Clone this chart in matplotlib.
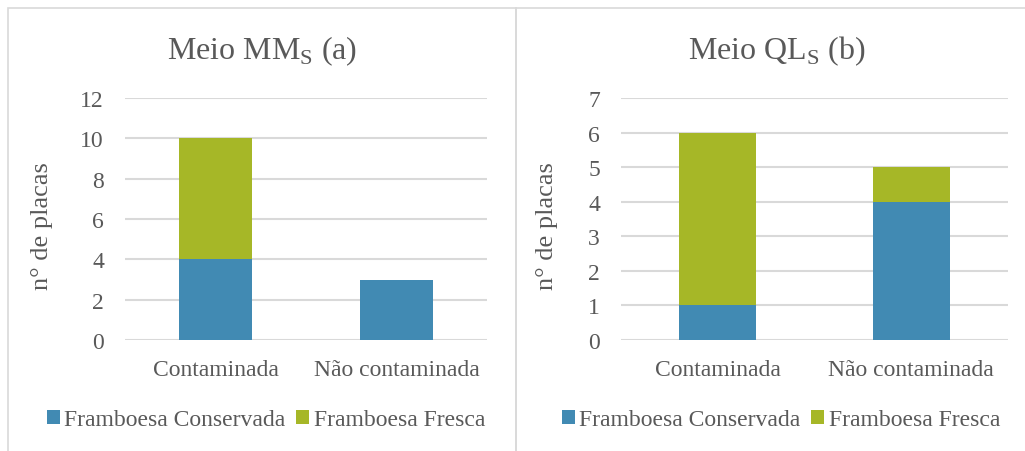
import matplotlib
matplotlib.use("Agg")
import matplotlib.pyplot as plt
from matplotlib.patches import Patch, Rectangle

# Data
categories = ["Contaminada", "Não contaminada"]
series_names = ["Framboesa Conservada", "Framboesa Fresca"]
mm_conservada = [4, 3]
mm_fresca = [6, 0]
ql_conservada = [1, 4]
ql_fresca = [5, 1]
mm_yticks = [0, 2, 4, 6, 8, 10, 12]
ql_yticks = [0, 1, 2, 3, 4, 5, 6, 7]

BLUE = "#418AB3"
GREEN = "#A6B727"
TEXT = "#595959"
GRID = "#D9D9D9"

plt.rcParams["font.family"] = ["Liberation Serif", "DejaVu Serif"]
plt.rcParams["mathtext.fontset"] = "custom"
plt.rcParams["mathtext.rm"] = "Liberation Serif"

W, H = 1025, 452
fig = plt.figure(figsize=(W / 100, H / 100), dpi=100)


def fx(px):
    return px / W


def fy(py):
    return (H - py) / H


# Panel frames
for x0, x1 in [(8, 516), (516, 1040)]:
    fig.patches.append(Rectangle((fx(x0), fy(470)), fx(x1 - x0), (470 - 9) / H,
                                 transform=fig.transFigure, fill=False,
                                 edgecolor="#D9D9D9", linewidth=1.2))


def panel(ax_left, ax_right, title, cons, fres, yticks, cx, ylab_x, tick_right):
    ax = fig.add_axes([fx(ax_left), fy(341), fx(ax_right - ax_left), (341 - 99) / H])
    x = range(len(categories))
    ax.bar(x, cons, width=0.4, color=BLUE, zorder=3)
    ax.bar(x, fres, width=0.4, bottom=cons, color=GREEN, zorder=3)
    ax.set_xlim(-0.5, len(categories) - 0.5)
    ax.set_ylim(yticks[0], yticks[-1])
    ax.set_yticks(yticks)
    ax.set_xticks(list(x))
    ax.set_xticklabels(categories)
    for s in ax.spines.values():
        s.set_visible(False)
    ax.yaxis.grid(True, color=GRID, linewidth=1.5, zorder=0)
    ax.set_axisbelow(True)
    ax.tick_params(axis="both", length=0, labelsize=17, colors=TEXT)
    ax.tick_params(axis="y", pad=(ax_left - tick_right) * 0.72)
    ax.tick_params(axis="x", pad=14)
    for lab in ax.get_yticklabels():
        lab.set_clip_on(False)
    fig.text(fx(cx), fy(51), title, ha="center", va="center", fontsize=23, color=TEXT)
    fig.text(fx(ylab_x), fy(226), "n° de placas", rotation=90, ha="center", va="center",
             fontsize=19, color=TEXT)
    handles = [Patch(facecolor=BLUE, edgecolor="none"), Patch(facecolor=GREEN, edgecolor="none")]
    ax.legend(handles, series_names, loc="center", bbox_to_anchor=(fx(cx + 4), fy(421)),
              bbox_transform=fig.transFigure, ncol=2, frameon=False, fontsize=17,
              handlelength=0.55, handleheight=0.55, handletextpad=0.2,
              columnspacing=0.45, labelcolor=TEXT, borderpad=0, borderaxespad=0)
    return ax


panel(125, 487, r"Meio MM$_\mathregular{S}$ (a)", mm_conservada, mm_fresca, mm_yticks, 262, 42, 104)
panel(621, 1008, r"Meio QL$_\mathregular{S}$ (b)", ql_conservada, ql_fresca, ql_yticks, 777, 547, 600)

fig.savefig("out.png", dpi=100, facecolor="white")
